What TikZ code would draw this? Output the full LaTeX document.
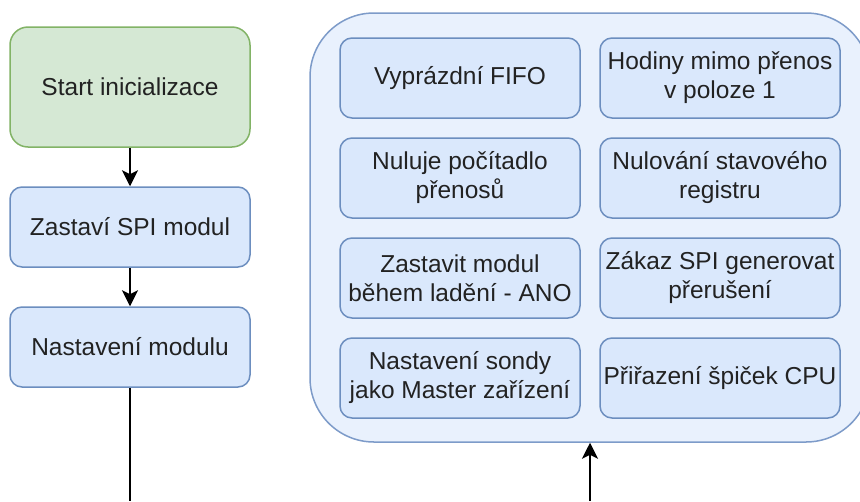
\documentclass[tikz,border=0pt]{standalone}
\usepackage{fontspec}
\setmainfont{Liberation Sans}
\usetikzlibrary{arrows.meta}
\definecolor{gfill}{HTML}{D5E8D4}
\definecolor{gline}{HTML}{82B366}
\definecolor{bfill}{HTML}{DAE8FC}
\definecolor{bline}{HTML}{6C8EBF}
\definecolor{cfill}{HTML}{E9F1FD}
\definecolor{cline}{HTML}{7D9BC9}
\definecolor{txt}{HTML}{222222}
\tikzset{
  box/.style={draw=bline, fill=bfill, line width=1.5pt, rounded corners=12pt,
    minimum width=240pt, minimum height=80pt, inner sep=0pt, align=center,
    text=txt, font=\fontsize{24.5}{29}\selectfont},
  startbox/.style={box, draw=gline, fill=gfill, minimum height=120pt, rounded corners=18pt},
  groupbox/.style={draw=cline, fill=cfill, line width=1.5pt, rounded corners=64pt,
    minimum width=560pt, minimum height=429pt, inner sep=0pt},
  conn/.style={draw=black, line width=1.5pt, -{Stealth[length=16pt,width=16pt,inset=4pt]}},
  plain/.style={draw=black, line width=1.5pt}
}
\begin{document}
\begin{tikzpicture}[x=1pt,y=-1pt]
\fill[white] (0,0) rectangle (860,501);
\useasboundingbox (0,0) rectangle (860,501);
% left column
\node[startbox] (start) at (130,87) {Start inicializace};
\node[box] (stop) at (130,227) {Zastaví SPI modul};
\node[box] (set) at (130,347) {Nastavení modulu};
\draw[conn] (start) -- (stop);
\draw[conn] (stop) -- (set);
\coordinate (outl) at (130,501);
\draw[plain] (set) -- (outl);
% group
\node[groupbox] (grp) at (590,227.5) {};
\node[box] (b1) at (460,78) {Vyprázdní FIFO};
\node[box] (b2) at (720,78) {Hodiny mimo přenos\\v poloze 1};
\node[box] (b3) at (460,178) {Nuluje počítadlo\\přenosů};
\node[box] (b4) at (720,178) {Nulování stavového\\registru};
\node[box] (b5) at (460,278) {Zastavit modul\\během ladění - ANO};
\node[box] (b6) at (720,278) {Zákaz SPI generovat\\přerušení};
\node[box] (b7) at (460,378) {Nastavení sondy\\jako Master zařízení};
\node[box] (b8) at (720,378) {Přiřazení špiček CPU};
\coordinate (inr) at (590,501);
\draw[conn] (inr) -- (grp.south);
\end{tikzpicture}
\end{document}
